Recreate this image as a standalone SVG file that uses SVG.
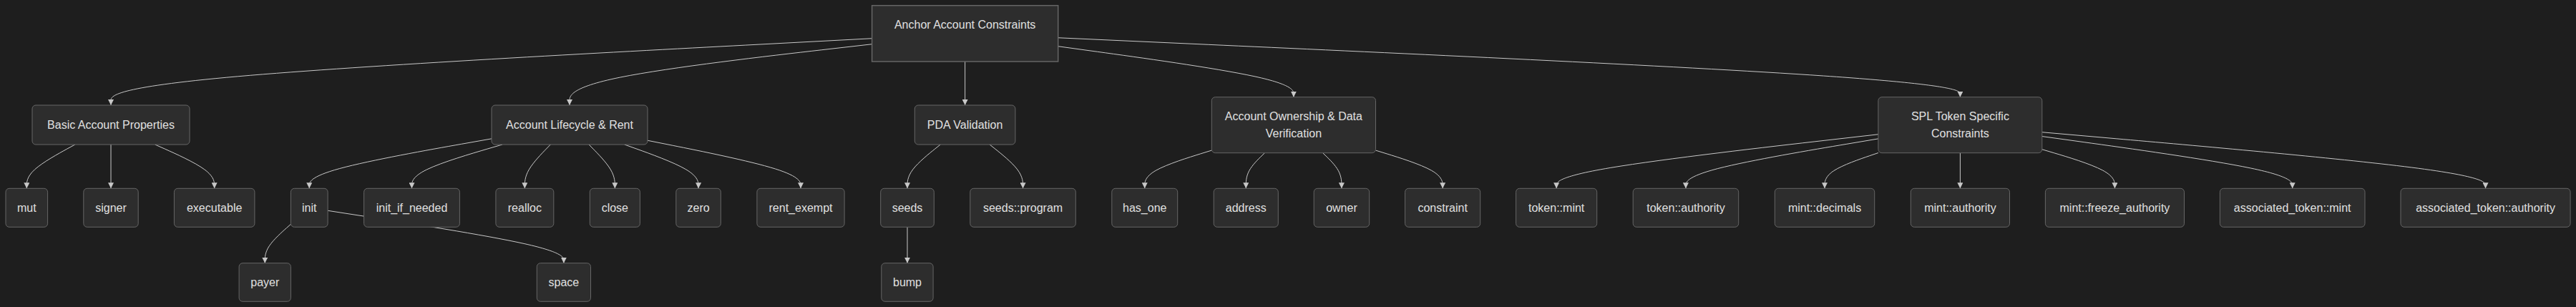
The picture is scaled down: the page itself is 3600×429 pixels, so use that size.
<svg xmlns="http://www.w3.org/2000/svg" width="3600" height="429" viewBox="0 0 3600 429">
<style>
.bg{fill:#1e1e1e}
.node rect{fill:#2d2d2d;stroke:#666666;stroke-width:1}
.node text{font-family:"Liberation Sans",Arial,sans-serif;font-size:16px;fill:#e0e0e0;text-anchor:middle}
.edge{fill:none;stroke:#c8c8c8;stroke-width:1;marker-end:url(#arrow)}
</style>
<defs>
<marker id="arrow" viewBox="0 0 10 10" refX="10" refY="5" markerWidth="8" markerHeight="8" markerUnits="userSpaceOnUse" orient="auto">
<path d="M0,0 L10,5 L0,10 z" fill="#c8c8c8"/>
</marker>
</defs>
<rect class="bg" x="0" y="0" width="3600" height="429"/>
<g id="connectors">
<path class="edge" d="M1218.6,53.73 L1041.33,63.11 C864.07,72.49 509.53,91.24 332.27,106.79 C155,122.33 155,134.67 155,140.83 L155,147"/>
<path class="edge" d="M1218.6,61.71 L1148.17,69.76 C1077.73,77.81 936.87,93.9 866.43,108.12 C796,122.33 796,134.67 796,140.83 L796,147"/>
<path class="edge" d="M1348.65,86 L1348.65,147"/>
<path class="edge" d="M1478.7,64.73 L1533.57,72.28 C1588.43,79.82 1698.17,94.91 1753.03,106.74 C1807.9,118.57 1807.9,127.13 1807.9,131.42 L1807.9,135.7"/>
<path class="edge" d="M1478.7,52.76 L1688.82,62.3 C1898.93,71.84 2319.17,90.92 2529.28,104.74 C2739.4,118.57 2739.4,127.13 2739.4,131.42 L2739.4,135.7"/>
<path class="edge" d="M104.82,202 L93.57,208.17 C82.31,214.33 59.81,226.67 48.55,236.88 C37.3,247.1 37.3,255.2 37.3,259.25 L37.3,263.3"/>
<path class="edge" d="M155,202 L155,263.3"/>
<path class="edge" d="M216.67,202 L230.5,208.17 C244.33,214.33 271.99,226.67 285.82,236.88 C299.65,247.1 299.65,255.2 299.65,259.25 L299.65,263.3"/>
<path class="edge" d="M687,193.83 L644.54,201.36 C602.08,208.89 517.17,223.94 474.71,235.52 C432.25,247.1 432.25,255.2 432.25,259.25 L432.25,263.3"/>
<path class="edge" d="M701.98,202 L680.9,208.17 C659.82,214.33 617.66,226.67 596.58,236.88 C575.5,247.1 575.5,255.2 575.5,259.25 L575.5,263.3"/>
<path class="edge" d="M769.29,202 L763.3,208.17 C757.31,214.33 745.33,226.67 739.34,236.88 C733.35,247.1 733.35,255.2 733.35,259.25 L733.35,263.3"/>
<path class="edge" d="M823.01,202 L829.07,208.17 C835.12,214.33 847.24,226.67 853.29,236.88 C859.35,247.1 859.35,255.2 859.35,259.25 L859.35,263.3"/>
<path class="edge" d="M872.77,202 L889.98,208.17 C907.2,214.33 941.62,226.67 958.84,236.88 C976.05,247.1 976.05,255.2 976.05,259.25 L976.05,263.3"/>
<path class="edge" d="M905,196.27 L940.67,203.39 C976.33,210.51 1047.67,224.76 1083.33,235.93 C1119,247.1 1119,255.2 1119,259.25 L1119,263.3"/>
<path class="edge" d="M1314.23,202 L1306.53,208.17 C1298.82,214.33 1283.41,226.67 1275.71,236.88 C1268,247.1 1268,255.2 1268,259.25 L1268,263.3"/>
<path class="edge" d="M1383.12,202 L1390.86,208.17 C1398.6,214.33 1414.07,226.67 1421.81,236.88 C1429.55,247.1 1429.55,255.2 1429.55,259.25 L1429.55,263.3"/>
<path class="edge" d="M1693.3,210.1 L1677.71,214.92 C1662.12,219.73 1630.93,229.37 1615.34,238.23 C1599.75,247.1 1599.75,255.2 1599.75,259.25 L1599.75,263.3"/>
<path class="edge" d="M1767.48,213.7 L1763.11,217.92 C1758.74,222.13 1749.99,230.57 1745.62,238.83 C1741.25,247.1 1741.25,255.2 1741.25,259.25 L1741.25,263.3"/>
<path class="edge" d="M1848.57,213.7 L1852.97,217.92 C1857.36,222.13 1866.16,230.57 1870.55,238.83 C1874.95,247.1 1874.95,255.2 1874.95,259.25 L1874.95,263.3"/>
<path class="edge" d="M1922.5,210.08 L1938.11,214.9 C1953.72,219.72 1984.93,229.36 2000.54,238.23 C2016.15,247.1 2016.15,255.2 2016.15,259.25 L2016.15,263.3"/>
<path class="edge" d="M2624.95,187.74 L2549.98,196.28 C2475.02,204.83 2325.08,221.91 2250.12,234.51 C2175.15,247.1 2175.15,255.2 2175.15,259.25 L2175.15,263.3"/>
<path class="edge" d="M2624.95,193.89 L2580.12,201.41 C2535.28,208.93 2445.62,223.96 2400.78,235.53 C2355.95,247.1 2355.95,255.2 2355.95,259.25 L2355.95,263.3"/>
<path class="edge" d="M2624.95,213.56 L2612.46,217.8 C2599.97,222.04 2574.98,230.52 2562.49,238.81 C2550,247.1 2550,255.2 2550,259.25 L2550,263.3"/>
<path class="edge" d="M2739.4,213.7 L2739.4,263.3"/>
<path class="edge" d="M2853.85,208.76 L2870.78,213.8 C2887.72,218.84 2921.58,228.92 2938.52,238.01 C2955.45,247.1 2955.45,255.2 2955.45,259.25 L2955.45,263.3"/>
<path class="edge" d="M2853.85,190.55 L2912.16,198.63 C2970.47,206.7 3087.08,222.85 3145.39,234.98 C3203.7,247.1 3203.7,255.2 3203.7,259.25 L3203.7,263.3"/>
<path class="edge" d="M2853.85,184.72 L2957.13,193.77 C3060.42,202.81 3266.98,220.91 3370.27,234 C3473.55,247.1 3473.55,255.2 3473.55,259.25 L3473.55,263.3"/>
<path class="edge" d="M406.4,313.27 L400.38,318.63 C394.35,323.98 382.3,334.69 376.28,343.76 C370.25,352.83 370.25,360.27 370.25,363.98 L370.25,367.7"/>
<path class="edge" d="M458.1,294.3 L513.07,302.82 C568.03,311.33 677.97,328.37 732.93,340.6 C787.9,352.83 787.9,360.27 787.9,363.98 L787.9,367.7"/>
<path class="edge" d="M1268,317.3 L1268,367.7"/>
</g>
<g id="root" class="node"><rect x="1218.6" y="7.7" width="260.1" height="78.3" style="stroke-width:1.5"/><text x="1348.65" y="40">Anchor Account Constraints</text></g>
<g id="basic" class="node"><rect x="45" y="147" width="220" height="55" rx="5"/><text x="155" y="180">Basic Account Properties</text></g>
<g id="lifecycle" class="node"><rect x="687" y="147" width="218" height="55" rx="5"/><text x="796" y="180">Account Lifecycle &amp; Rent</text></g>
<g id="pda" class="node"><rect x="1278.3" y="147" width="140.6" height="55" rx="5"/><text x="1348.6" y="180">PDA Validation</text></g>
<g id="ownership" class="node"><rect x="1693.3" y="135.7" width="229.2" height="78" rx="5"/><text x="1807.9" y="167.5">Account Ownership &amp; Data</text><text x="1807.9" y="191.5">Verification</text></g>
<g id="spl" class="node"><rect x="2624.9" y="135.7" width="228.9" height="78" rx="5"/><text x="2739.4" y="167.5">SPL Token Specific</text><text x="2739.4" y="191.5">Constraints</text></g>
<g id="mut" class="node"><rect x="8" y="263.3" width="58.6" height="54" rx="5"/><text x="37.3" y="296">mut</text></g>
<g id="signer" class="node"><rect x="116.8" y="263.3" width="76.4" height="54" rx="5"/><text x="155" y="296">signer</text></g>
<g id="executable" class="node"><rect x="243.4" y="263.3" width="112.5" height="54" rx="5"/><text x="299.65" y="296">executable</text></g>
<g id="init" class="node"><rect x="406.4" y="263.3" width="51.7" height="54" rx="5"/><text x="432.25" y="296">init</text></g>
<g id="init_if_needed" class="node"><rect x="508.6" y="263.3" width="133.8" height="54" rx="5"/><text x="575.5" y="296">init_if_needed</text></g>
<g id="realloc" class="node"><rect x="692.9" y="263.3" width="80.9" height="54" rx="5"/><text x="733.35" y="296">realloc</text></g>
<g id="close" class="node"><rect x="824.3" y="263.3" width="70.1" height="54" rx="5"/><text x="859.35" y="296">close</text></g>
<g id="zero" class="node"><rect x="944.8" y="263.3" width="62.5" height="54" rx="5"/><text x="976.05" y="296">zero</text></g>
<g id="rent_exempt" class="node"><rect x="1057.9" y="263.3" width="122.2" height="54" rx="5"/><text x="1119" y="296">rent_exempt</text></g>
<g id="seeds" class="node"><rect x="1230.7" y="263.3" width="74.6" height="54" rx="5"/><text x="1268" y="296">seeds</text></g>
<g id="seeds_program" class="node"><rect x="1355.8" y="263.3" width="147.5" height="54" rx="5"/><text x="1429.55" y="296">seeds::program</text></g>
<g id="has_one" class="node"><rect x="1553.8" y="263.3" width="91.9" height="54" rx="5"/><text x="1599.75" y="296">has_one</text></g>
<g id="address" class="node"><rect x="1696.2" y="263.3" width="90.1" height="54" rx="5"/><text x="1741.25" y="296">address</text></g>
<g id="owner" class="node"><rect x="1836.2" y="263.3" width="77.5" height="54" rx="5"/><text x="1874.95" y="296">owner</text></g>
<g id="constraint" class="node"><rect x="1963.6" y="263.3" width="105.1" height="54" rx="5"/><text x="2016.15" y="296">constraint</text></g>
<g id="token_mint" class="node"><rect x="2118.6" y="263.3" width="113.1" height="54" rx="5"/><text x="2175.15" y="296">token::mint</text></g>
<g id="token_authority" class="node"><rect x="2282.2" y="263.3" width="147.5" height="54" rx="5"/><text x="2355.95" y="296">token::authority</text></g>
<g id="mint_decimals" class="node"><rect x="2480.3" y="263.3" width="139.4" height="54" rx="5"/><text x="2550" y="296">mint::decimals</text></g>
<g id="mint_authority" class="node"><rect x="2670.3" y="263.3" width="138.2" height="54" rx="5"/><text x="2739.4" y="296">mint::authority</text></g>
<g id="mint_freeze_authority" class="node"><rect x="2858.4" y="263.3" width="194.1" height="54" rx="5"/><text x="2955.45" y="296">mint::freeze_authority</text></g>
<g id="associated_token_mint" class="node"><rect x="3102.4" y="263.3" width="202.6" height="54" rx="5"/><text x="3203.7" y="296">associated_token::mint</text></g>
<g id="associated_token_authority" class="node"><rect x="3355" y="263.3" width="237.1" height="54" rx="5"/><text x="3473.55" y="296">associated_token::authority</text></g>
<g id="payer" class="node"><rect x="334.1" y="367.7" width="72.3" height="53.6" rx="5"/><text x="370.25" y="400">payer</text></g>
<g id="space" class="node"><rect x="750.3" y="367.7" width="75.2" height="53.6" rx="5"/><text x="787.9" y="400">space</text></g>
<g id="bump" class="node"><rect x="1231.8" y="367.7" width="72.3" height="53.6" rx="5"/><text x="1268" y="400">bump</text></g>
</svg>
